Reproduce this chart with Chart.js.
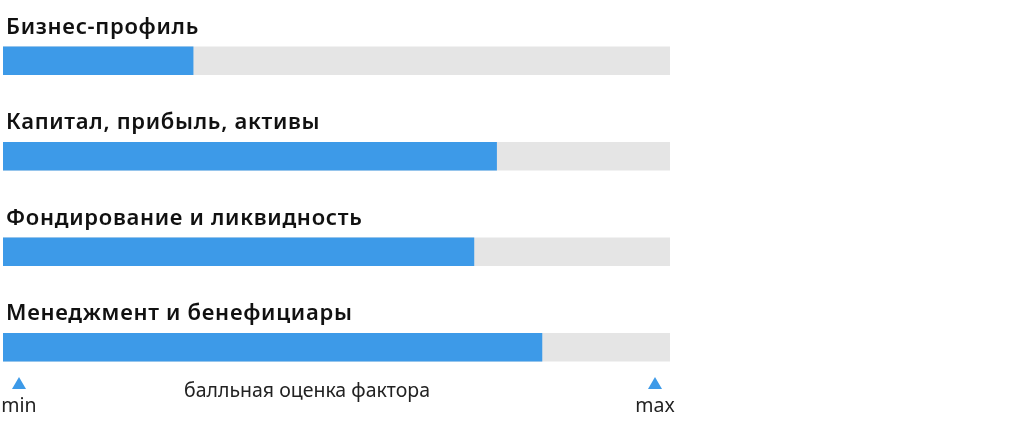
<!DOCTYPE html>
<html>
<head>
<meta charset="utf-8">
<script src="https://cdn.jsdelivr.net/npm/chart.js@4"></script>
<style>
  html, body { margin: 0; padding: 0; background: #fff; }
  #wrap { width: 1024px; height: 423px; }
</style>
</head>
<body>
<div id="wrap"><canvas id="factorsChart"></canvas></div>
<script>
const categories = ["Бизнес-профиль", "Капитал, прибыль, активы", "Фондирование и ликвидность", "Менеджмент и бенефициары"];
const scores = [28.5, 74, 70.6, 80.8];
const maxScores = [100, 100, 100, 100];
const scaleLabels = ["min", "max"];
const axisTitle = "балльная оценка фактора";

// подписи над полосами + шкала min/max снизу
const labelsPlugin = {
  id: "labelsPlugin",
  afterDraw(chart) {
    const ctx = chart.ctx;
    const area = chart.chartArea;
    const meta = chart.getDatasetMeta(1);
    ctx.save();
    ctx.fillStyle = "#111";
    ctx.font = "600 22px 'Noto Sans'";
    ctx.letterSpacing = "0.7px";
    ctx.textBaseline = "alphabetic";
    ctx.textAlign = "left";
    meta.data.forEach((bar, i) => {
      const top = bar.y - bar.height / 2;
      ctx.fillText(chart.data.labels[i], 6, top - 13);
    });

    const xs = [area.left + 16, area.right - 15];
    ctx.fillStyle = "#3d9ae8";
    xs.forEach((x) => {
      ctx.beginPath();
      ctx.moveTo(x - 7, 389);
      ctx.lineTo(x + 7, 389);
      ctx.lineTo(x, 377);
      ctx.closePath();
      ctx.fill();
    });

    ctx.letterSpacing = "0px";
    ctx.fillStyle = "#222";
    ctx.font = "19.5px 'Noto Sans'";
    ctx.textAlign = "center";
    ctx.fillText(scaleLabels[0], xs[0], 412);
    ctx.fillText(scaleLabels[1], xs[1], 412);
    ctx.fillText(axisTitle, 307, 397);
    ctx.restore();
  },
};

const ctx = document.getElementById("factorsChart").getContext("2d");
new Chart(ctx, {
  type: "bar",
  data: {
    labels: categories,
    datasets: [
      {
        label: "Оценка",
        data: scores,
        backgroundColor: "#3d9ae8",
        barThickness: 28,
        grouped: false,
      },
      {
        label: "Шкала",
        data: maxScores,
        backgroundColor: "#e5e5e5",
        barThickness: 28,
        grouped: false,
      },
    ],
  },
  options: {
    indexAxis: "y",
    responsive: true,
    maintainAspectRatio: false,
    animation: false,
    layout: { padding: { left: 3, right: 354, top: 13, bottom: 28 } },
    plugins: {
      legend: { display: false },
      tooltip: { enabled: false },
    },
    scales: {
      x: { min: 0, max: 100, display: false },
      y: { display: false },
    },
  },
  plugins: [labelsPlugin],
});
</script>
</body>
</html>
